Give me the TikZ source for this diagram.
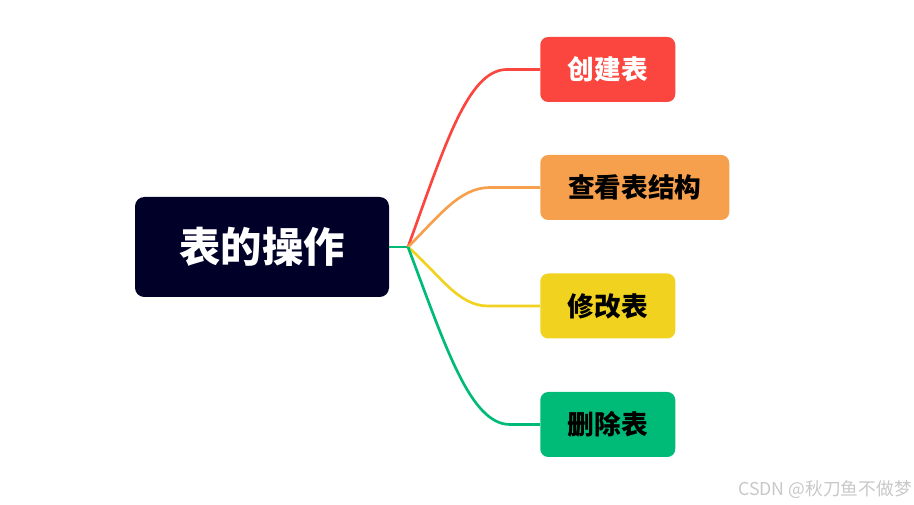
\documentclass[tikz,border=0pt]{standalone}
\usepackage{fontspec}
\setmainfont{Noto Sans CJK SC}
\newfontfamily\cjk{Noto Sans CJK SC}
\begin{document}
\begin{tikzpicture}[x=0.75pt,y=0.75pt,yscale=-1,
  every node/.style={font=\cjk},
  rootbox/.style={fill={rgb,255:red,0;green,0;blue,40},rounded corners=7pt,minimum width=190.5pt,minimum height=75pt,text=white,font=\cjk\bfseries\fontsize{31}{36}\selectfont},
  leafbox/.style={anchor=west,rounded corners=6pt,minimum width=101.25pt,minimum height=48.75pt,font=\cjk\bfseries\fontsize{20}{24}\selectfont},
  branch/.style={line width=2pt}]

\useasboundingbox (0,0) rectangle (914,505);

% Root
\node [rootbox] (root) at (262,247) {表的操作};
\coordinate (hub) at (408,247);

% Leaves
\node [leafbox,fill={rgb,255:red,250;green,70;blue,62},text=white] (create) at (540,69.5) {创建表};
\node [leafbox,fill={rgb,255:red,246;green,160;blue,77},minimum width=141.75pt] (view) at (540,187.5) {查看表结构};
\node [leafbox,fill={rgb,255:red,241;green,211;blue,31}] (modify) at (540,306) {修改表};
\node [leafbox,fill={rgb,255:red,0;green,187;blue,119}] (delete) at (540,424.5) {删除表};

%Straight Lines
\draw [branch,color={rgb,255:red,0;green,187;blue,119}] (root.east) -- (hub);
%Curves
\draw [branch,color={rgb,255:red,250;green,70;blue,62}] (hub) .. controls +(37,-102) and +(-39,0) .. ([xshift=-24.75pt]create.west) -- (create.west);
\draw [branch,color={rgb,255:red,246;green,160;blue,77}] (hub) .. controls +(32,-32) and +(-30,0) .. ([xshift=-37.5pt]view.west) -- (view.west);
\draw [branch,color={rgb,255:red,241;green,211;blue,31}] (hub) .. controls +(32,28) and +(-30,0) .. ([xshift=-39pt]modify.west) -- (modify.west);
\draw [branch,color={rgb,255:red,0;green,187;blue,119}] (hub) .. controls +(37,98) and +(-40,0) .. ([xshift=-22.5pt]delete.west) -- (delete.west);

% Text Node
\node [anchor=west,text={rgb,255:red,200;green,200;blue,200},font=\cjk\fontsize{13.3}{15}\selectfont,inner sep=0pt] (mark) at (738,490) {CSDN @秋刀鱼不做梦};
\end{tikzpicture}
\end{document}
